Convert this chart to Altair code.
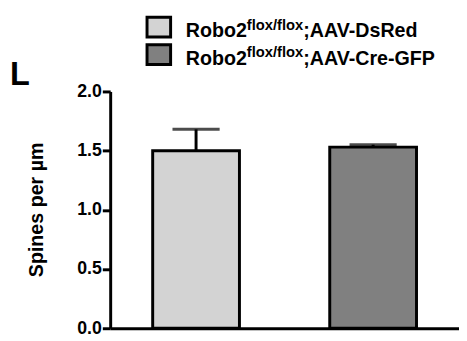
import altair as alt
import pandas as pd

# ---- data ----
groups = ["AAV-DsRed", "AAV-Cre-GFP"]
means = [1.50, 1.53]
err_top = [1.68, 1.55]
fills = ["#d3d3d3", "#808080"]
legend_main = ["Robo2", "Robo2"]
legend_sup = ["flox/flox", "flox/flox"]
legend_tail = [";AAV-DsRed", ";AAV-Cre-GFP"]
y_ticks = [0.0, 0.5, 1.0, 1.5, 2.0]
panel_letter = "L"
y_title = "Spines per µm"

FONT = "Liberation Sans"

df = pd.DataFrame({"group": groups, "mean": means, "top": err_top, "fill": fills})

xenc = alt.X(
    "group:N",
    sort=groups,
    scale=alt.Scale(paddingInner=0.51, paddingOuter=0.24),
    axis=alt.Axis(title=None, labels=False, ticks=False, domainWidth=3,
                  domainColor="black", grid=False),
)
yscale = alt.Scale(domain=[0, 2])
yaxis = alt.Axis(
    values=y_ticks, format=".1f", grid=False,
    labelFont=FONT, labelFontSize=18, labelFontWeight="bold", labelColor="black",
    labelPadding=1, tickSize=8, tickWidth=3, tickColor="black",
    domainWidth=3, domainColor="black",
    title=y_title, titleFont=FONT, titleFontSize=20, titleFontWeight="bold",
    titleColor="black", titleAngle=270, titleBaseline="bottom", titleX=-65,
    titleY=120, titleAlign="center",
)

base = alt.Chart(df)
bars = base.mark_bar(stroke="black", strokeWidth=3).encode(
    x=xenc,
    y=alt.Y("mean:Q", scale=yscale, axis=yaxis),
    fill=alt.Fill("fill:N", scale=None),
)
err = base.mark_rule(color="black", strokeWidth=3).encode(
    x=alt.X("group:N", sort=groups), y="mean:Q", y2="top:Q"
)
cap = base.mark_tick(color="black", size=48, thickness=3, orient="horizontal").encode(
    x=alt.X("group:N", sort=groups), y="top:Q"
)

layers = [bars, err, cap]

# ---- custom legend (superscript needs separate text pieces) ----
row_base = [-55, -27]
for i in range(2):
    one = alt.Chart(pd.DataFrame({"m": [legend_main[i]], "s": [legend_sup[i]],
                                  "t": [legend_tail[i]], "f": [fills[i]]}))
    bl = row_base[i]
    layers.append(one.mark_rect(stroke="black", strokeWidth=3).encode(
        x=alt.value(37.5), x2=alt.value(61.5),
        y=alt.value(bl - 20.5), y2=alt.value(bl - 0.5),
        fill=alt.Fill("f:N", scale=None)))
    layers.append(one.mark_text(align="left", baseline="alphabetic", font=FONT,
                                fontSize=20, fontWeight="bold", color="black").encode(
        x=alt.value(77), y=alt.value(bl), text="m:N"))
    layers.append(one.mark_text(align="left", baseline="alphabetic", font=FONT,
                                fontSize=15, fontWeight="bold", color="black").encode(
        x=alt.value(139), y=alt.value(bl - 8), text="s:N"))
    layers.append(one.mark_text(align="left", baseline="alphabetic", font=FONT,
                                fontSize=20, fontWeight="bold", color="black").encode(
        x=alt.value(196.5), y=alt.value(bl), text="t:N"))

letter = alt.Chart(pd.DataFrame({"l": [panel_letter]})).mark_text(
    align="left", baseline="alphabetic", font=FONT, fontSize=33,
    fontWeight="bold", color="black").encode(x=alt.value(-102), y=alt.value(-7), text="l:N")
layers.append(letter)

chart = alt.layer(*layers).properties(
    width=355, height=241,
    autosize=alt.AutoSizeParams(type="none"),
    padding={"left": 104, "top": 82, "right": 0, "bottom": 8},
    background="white",
).configure_view(stroke=None)

chart.save("out.html", embed_options={"renderer": "svg", "actions": False})
